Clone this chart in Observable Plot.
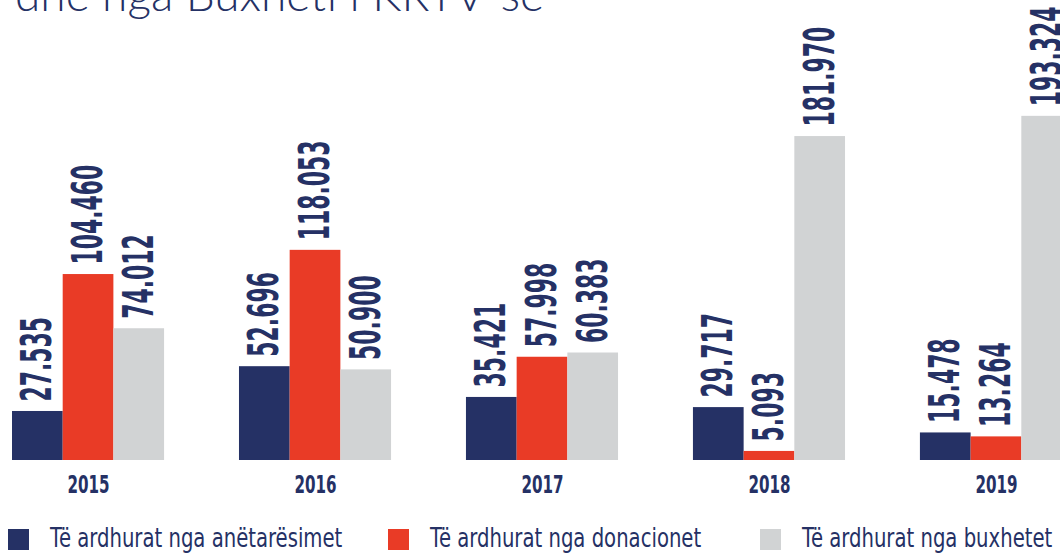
<!DOCTYPE html>
<html>
<head>
<meta charset="utf-8">
<script src="https://cdn.jsdelivr.net/npm/d3@7"></script>
<script src="https://cdn.jsdelivr.net/npm/@observablehq/plot@0.6"></script>
<style>
  html, body { margin: 0; padding: 0; background: #fff; width: 1060px; height: 553px; overflow: hidden; position: relative; }
  #title { position: absolute; left: 15px; top: -34px; font-family: Lato, "Open Sans", sans-serif; font-weight: 300; font-size: 46px; color: #253165; white-space: nowrap; }
  #chart { position: absolute; left: 0; top: 0; width: 1060px; height: 500px; overflow: hidden; }
  #chart svg { max-width: none !important; }
  #legend { position: absolute; left: 0; top: 529px; width: 1060px; height: 24px; }
  .item { position: absolute; top: 0; height: 24px; }
  .sw { position: absolute; top: 0; width: 21px; height: 21px; }
  .lab { position: absolute; top: -6px; left: 42px; font-family: "Liberation Sans Narrow", "DejaVu Sans Condensed", "Roboto", sans-serif; font-stretch: condensed; font-size: 26px; color: #253165; white-space: nowrap; transform-origin: left center; transform: scaleX(0.84); }
</style>
</head>
<body>
<div id="title">dhe nga Buxheti i KRTV-së</div>
<div id="chart"></div>
<div id="legend"></div>
<script>
const years = ["2015", "2016", "2017", "2018", "2019"];
const seriesNames = ["Të ardhurat nga anëtarësimet", "Të ardhurat nga donacionet", "Të ardhurat nga buxhetet"];
const anetaresimet = [27535, 52696, 35421, 29717, 15478];
const donacionet = [104460, 118053, 57998, 5093, 13264];
const buxhetet = [74012, 50900, 60383, 181970, 193324];
const colors = ["#253165", "#e93b26", "#d1d3d4"];

const seriesValues = [anetaresimet, donacionet, buxhetet];
const data = [];
years.forEach((yr, i) => {
  seriesNames.forEach((s, j) => {
    data.push({year: yr, series: s, value: seriesValues[j][i]});
  });
});
const fmt = v => d3.format(",")(v).replace(/,/g, ".");
const condFont = "'Liberation Sans Narrow', 'DejaVu Sans Condensed', sans-serif";

const chart = Plot.plot({
  width: 1072,
  height: 500,
  marginLeft: 12,
  marginRight: 0,
  marginTop: 0,
  marginBottom: 40,
  style: {background: "transparent", color: "#253165", maxWidth: "none"},
  fx: {domain: years, paddingInner: 0.33, paddingOuter: 0, round: false, axis: "bottom", label: null, tickSize: 0, tickPadding: 15},
  x: {domain: seriesNames, axis: null, padding: 0, round: false},
  y: {domain: [0, 258400], axis: null},
  color: {domain: seriesNames, range: colors},
  marks: [
    Plot.barY(data, {fx: "year", x: "series", y: "value", fill: "series", inset: 0}),
    Plot.text(data, {fx: "year", x: "series", y: "value", text: d => fmt(d.value), rotate: -90,
      textAnchor: "start", lineAnchor: "middle", dy: -10, fill: "#253165",
      fontSize: 42, fontWeight: "bold", fontFamily: condFont})
  ]
});
chart.style.maxWidth = "none";
document.getElementById("chart").appendChild(chart);

function condense(node, k) {
  const len = node.getComputedTextLength();
  if (len > 0) {
    node.setAttribute("textLength", (len * k).toFixed(2));
    node.setAttribute("lengthAdjust", "spacingAndGlyphs");
  }
}

// facet (year) labels style
d3.select(chart).selectAll("g[aria-label^='fx-axis'] text")
  .attr("font-size", 24).style("font-size", "24px").attr("font-weight", "bold")
  .attr("font-family", condFont).style("font-family", condFont)
  .attr("fill", "#253165")
  .each(function() { condense(this, 0.7); });
d3.select(chart).selectAll("g[aria-label='text'] text").each(function() { condense(this, 0.58); });

const lefts = [8, 388, 760];
const legend = document.getElementById("legend");
seriesNames.forEach((s, i) => {
  const item = document.createElement("div");
  item.className = "item";
  item.style.left = lefts[i] + "px";
  const sw = document.createElement("div");
  sw.className = "sw";
  sw.style.background = colors[i];
  const lab = document.createElement("div");
  lab.className = "lab";
  lab.textContent = s;
  item.appendChild(sw);
  item.appendChild(lab);
  legend.appendChild(item);
});
</script>
</body>
</html>
